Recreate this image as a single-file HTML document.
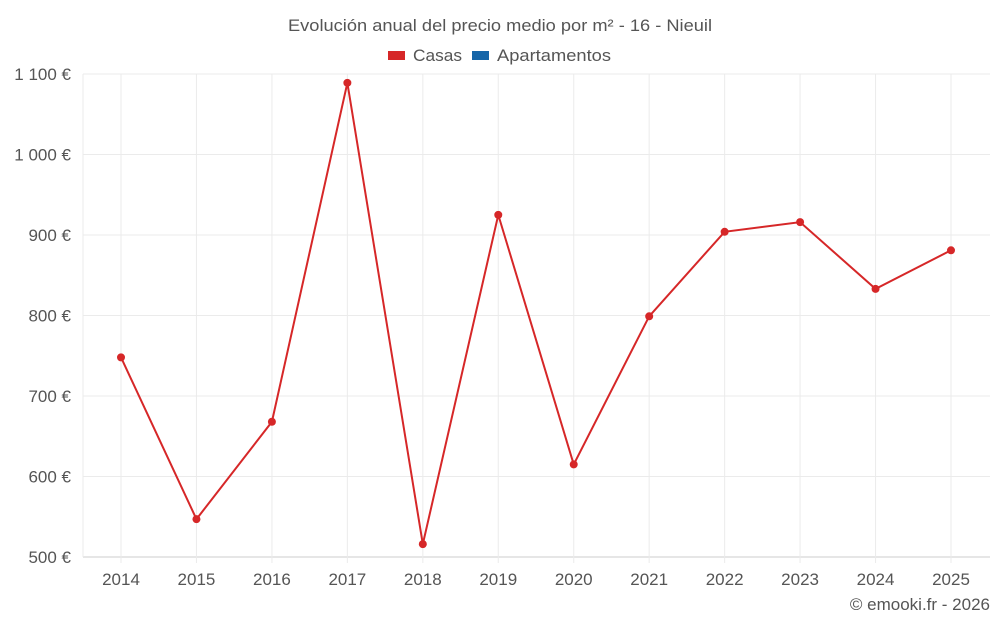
<!DOCTYPE html>
<html><head><meta charset="utf-8"><style>
body{margin:0;background:#fff;font-family:"Liberation Sans",sans-serif;}
svg text{font-family:"Liberation Sans",sans-serif;fill:#555;}
</style></head><body>
<svg id="chart" width="1000" height="625">
<text x="288" y="31" font-size="17" textLength="424" lengthAdjust="spacingAndGlyphs">Evolución anual del precio medio por m² - 16 - Nieuil</text>
<g>
<rect x="388" y="51" width="17" height="9" fill="#d62728"/>
<text x="413" y="61" font-size="17" textLength="49" lengthAdjust="spacingAndGlyphs">Casas</text>
<rect x="472" y="51" width="17" height="9" fill="#1565a8"/>
<text x="497" y="61" font-size="17" textLength="114" lengthAdjust="spacingAndGlyphs">Apartamentos</text>
</g>
<g id="grid"></g><g id="axes"></g><g id="series"></g>
<text x="990" y="610" text-anchor="end" font-size="17">© emooki.fr - 2026</text>
</svg>
<script>
const years=["2014","2015","2016","2017","2018","2019","2020","2021","2022","2023","2024","2025"];
const casas=[748,547,668,1089,516,925,615,799,904,916,833,881];
const yTicks=[500,600,700,800,900,1000,1100];
const yLabels=["500 €","600 €","700 €","800 €","900 €","1 000 €","1 100 €"];
const NS="http://www.w3.org/2000/svg";
const L=83,R=990,T=74,B=557;
const x=i=>121+i*(951-121)/(years.length-1);
const y=v=>B-(v-500)*(B-T)/600;
function mk(tag,attrs,parent){const e=document.createElementNS(NS,tag);for(const k in attrs)e.setAttribute(k,attrs[k]);document.getElementById(parent).appendChild(e);return e;}
yTicks.forEach((t,i)=>{
 const g=mk('line',{x1:L,x2:R,y1:y(t),y2:y(t),stroke:t===500?'#ccc':'#ebebeb'},'grid');
 
 
 const tx=mk('text',{x:71,y:y(t)+6,'text-anchor':'end','font-size':17},'axes');
 tx.textContent=yLabels[i];
 
 
});
const lv=mk('line',{x1:L,x2:L,y1:T,y2:B,stroke:'#ebebeb'},'grid');


years.forEach((yr,i)=>{
 const g=mk('line',{x1:x(i),x2:x(i),y1:T,y2:B+6,stroke:'#ebebeb'},'grid');
 
 
 const tx=mk('text',{x:x(i),y:585,'text-anchor':'middle','font-size':17},'axes');
 tx.textContent=yr;
 
 
});
const pts=casas.map((v,i)=>x(i)+','+y(v)).join(' ');
const pl=mk('polyline',{points:pts,fill:'none',stroke:'#d62728','stroke-width':2},'series');


casas.forEach((v,i)=>{
 const c=mk('circle',{cx:x(i),cy:y(v),r:4,fill:'#d62728'},'series');
 
 
});
</script>
</body></html>
